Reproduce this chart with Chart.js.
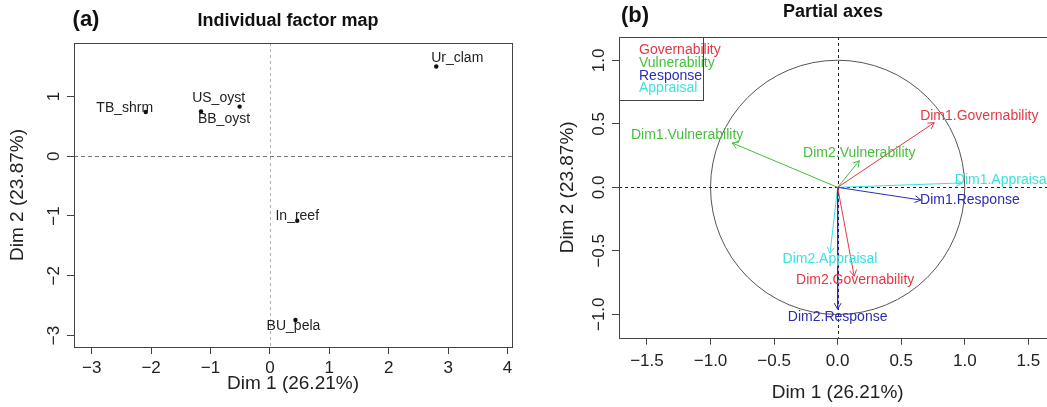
<!DOCTYPE html>
<html>
<head>
<meta charset="utf-8">
<script src="https://cdn.jsdelivr.net/npm/chart.js@4/dist/chart.umd.min.js"></script>
<style>
  html, body { margin: 0; padding: 0; background: #fff; overflow: hidden; }
  #wrap { position: relative; width: 1047px; height: 407px; overflow: hidden; }
  canvas { position: absolute; top: 0; }
  #mapA { left: 0; }
  #mapB { left: 530px; }
</style>
</head>
<body>
<div id="wrap">
  <canvas id="mapA" width="530" height="407"></canvas>
  <canvas id="mapB" width="530" height="407"></canvas>
</div>
<script>
// ---- Individual factor map: scores of each fishery on the first two dimensions
const individuals = ['Ur_clam', 'TB_shrm', 'US_oyst', 'BB_oyst', 'In_reef', 'BU_pela'];
const indDim1 = [2.80, -2.09, -0.51, -1.16, 0.46, 0.43];
const indDim2 = [1.50, 0.74, 0.83, 0.75, -1.08, -2.74];

// ---- Partial axes: coordinates of each group's own axes on the MFA dimensions
const partialNames = ['Dim1.Governability', 'Dim2.Governability',
                      'Dim1.Vulnerability', 'Dim2.Vulnerability',
                      'Dim1.Response', 'Dim2.Response',
                      'Dim1.Appraisal', 'Dim2.Appraisal'];
const partialGroup = ['Governability', 'Governability', 'Vulnerability', 'Vulnerability',
                      'Response', 'Response', 'Appraisal', 'Appraisal'];
const partialDim1 = [0.76, 0.13, -0.83, 0.17, 0.655, 0.00, 0.98, -0.06];
const partialDim2 = [0.51, -0.70, 0.35, 0.21, -0.10, -0.96, 0.035, -0.52];
const groups = ['Governability', 'Vulnerability', 'Response', 'Appraisal'];

// ---- tick values
const xTicksA = [-3, -2, -1, 0, 1, 2, 3, 4];
const yTicksA = [-3, -2, -1, 0, 1];
const xTicksB = [-1.5, -1, -0.5, 0, 0.5, 1, 1.5];
const yTicksB = [-1, -0.5, 0, 0.5, 1];

const axisTitleX = 'Dim 1 (26.21%)';
const axisTitleY = 'Dim 2 (23.87%)';

// ---- styling
const FONT = "'Liberation Sans', Arial, Helvetica, sans-serif";
const INK = '#222';
const FRAME = '#444';
const groupColors = {
  Governability: '#e23a45',
  Vulnerability: '#46be3c',
  Response: '#2d2db4',
  Appraisal: '#3ce1e1'
};
// text placement of each label relative to its mark, in pixels
const indLabelShift = {
  Ur_clam: [21, -8], TB_shrm: [-21, -4], US_oyst: [-21, -8],
  BB_oyst: [23, 8], In_reef: [0, -5], BU_pela: [-2, 6]
};
const partialLabelShift = {
  'Dim1.Governability': [45, -7], 'Dim2.Governability': [1, 4],
  'Dim1.Vulnerability': [-45, -8], 'Dim2.Vulnerability': [0, -8],
  'Dim1.Response': [49, 0], 'Dim2.Response': [0, 8],
  'Dim1.Appraisal': [40, -3], 'Dim2.Appraisal': [0, 6]
};

const withMinus = s => s.replace('-', '\u2212');
const fmtInt = v => withMinus(String(Math.round(v)));
const fmtOne = v => withMinus((Math.round(v * 10) / 10).toFixed(1));

function makeScales(o) {
  return {
    x: {
      type: 'linear', min: o.xMin, max: o.xMax,
      afterBuildTicks: s => { s.ticks = o.xTicks.map(v => ({ value: v })); },
      afterFit: s => { s.height = o.xAxisHeight; },
      grid: { drawOnChartArea: false, drawTicks: true, tickLength: 7, color: FRAME, lineWidth: 1 },
      border: { display: false },
      ticks: { font: { family: FONT, size: 17 }, color: INK, padding: o.xTickPad,
               maxRotation: 0, autoSkip: false, callback: o.fmt },
      title: { display: true, text: axisTitleX, color: INK, font: { family: FONT, size: 19 },
               padding: { top: 0, bottom: o.xTitlePad } }
    },
    y: {
      type: 'linear', min: o.yMin, max: o.yMax,
      afterBuildTicks: s => { s.ticks = o.yTicks.map(v => ({ value: v })); },
      afterFit: s => { s.width = o.yAxisWidth; },
      grid: { drawOnChartArea: false, drawTicks: true, tickLength: 7, color: FRAME, lineWidth: 1 },
      border: { display: false },
      ticks: { font: { family: FONT, size: 17 }, color: INK, padding: o.yTickPad,
               minRotation: 90, maxRotation: 90, crossAlign: 'center', autoSkip: false, callback: o.fmt },
      title: { display: true, text: axisTitleY, color: INK, font: { family: FONT, size: 19 },
               padding: { top: o.yTitlePad, bottom: 0 } }
    }
  };
}

// frame, zero lines, headings
const decor = {
  id: 'decor',
  beforeDatasetsDraw(chart, args, opts) {
    const { ctx, chartArea: a, scales: { x, y } } = chart;
    ctx.save();
    if (opts.circle) {
      const cx = x.getPixelForValue(0), cy = y.getPixelForValue(0);
      const r = x.getPixelForValue(1) - cx;
      ctx.beginPath();
      ctx.arc(cx, cy, r, 0, Math.PI * 2);
      ctx.strokeStyle = '#555';
      ctx.lineWidth = 1;
      ctx.stroke();
    }
    const x0 = Math.round(x.getPixelForValue(0)) + 0.5;
    const y0 = Math.round(y.getPixelForValue(0)) + 0.5;
    ctx.lineWidth = 1;
    ctx.setLineDash(opts.vDash);
    ctx.strokeStyle = opts.vColor;
    ctx.beginPath(); ctx.moveTo(x0, a.top); ctx.lineTo(x0, a.bottom); ctx.stroke();
    ctx.setLineDash(opts.hDash);
    ctx.strokeStyle = opts.hColor;
    ctx.beginPath(); ctx.moveTo(a.left, y0); ctx.lineTo(a.right, y0); ctx.stroke();
    ctx.restore();
  },
  afterDraw(chart, args, opts) {
    const { ctx, chartArea: a } = chart;
    ctx.save();
    ctx.strokeStyle = FRAME;
    ctx.lineWidth = 1;
    ctx.strokeRect(Math.round(a.left) + 0.5, Math.round(a.top) + 0.5,
                   Math.round(a.right - a.left), Math.round(a.bottom - a.top));
    ctx.fillStyle = '#111';
    ctx.textBaseline = 'alphabetic';
    ctx.textAlign = 'center';
    ctx.font = `bold 22px ${FONT}`;
    ctx.fillText(opts.tag, opts.tagX, opts.tagY);
    ctx.font = `bold 18px ${FONT}`;
    ctx.fillText(opts.heading, opts.headingX, opts.headingY);
    ctx.restore();
  }
};

// names next to the individuals
const individualNames = {
  id: 'individualNames',
  afterDatasetsDraw(chart) {
    const { ctx } = chart;
    const meta = chart.getDatasetMeta(0);
    ctx.save();
    ctx.font = `14px ${FONT}`;
    ctx.fillStyle = INK;
    ctx.textAlign = 'center';
    ctx.textBaseline = 'middle';
    meta.data.forEach((el, i) => {
      const name = individuals[i];
      const [dx, dy] = indLabelShift[name];
      ctx.fillText(name, el.x + dx, el.y + dy);
    });
    ctx.restore();
  }
};

// arrow heads, arrow names and the group key
const arrowsAndKey = {
  id: 'arrowsAndKey',
  afterDatasetsDraw(chart) {
    const { ctx, chartArea: a } = chart;
    ctx.save();
    chart.data.datasets.forEach((ds, i) => {
      const meta = chart.getDatasetMeta(i);
      const p0 = meta.data[0], p1 = meta.data[1];
      const ang = Math.atan2(p1.y - p0.y, p1.x - p0.x);
      const len = 7, spread = Math.PI / 6;
      ctx.strokeStyle = ds.borderColor;
      ctx.lineWidth = 1;
      ctx.beginPath();
      ctx.moveTo(p1.x - len * Math.cos(ang - spread), p1.y - len * Math.sin(ang - spread));
      ctx.lineTo(p1.x, p1.y);
      ctx.lineTo(p1.x - len * Math.cos(ang + spread), p1.y - len * Math.sin(ang + spread));
      ctx.stroke();
      const [dx, dy] = partialLabelShift[ds.label];
      ctx.font = `14px ${FONT}`;
      ctx.fillStyle = ds.borderColor;
      ctx.textAlign = 'center';
      ctx.textBaseline = 'middle';
      ctx.fillText(ds.label, p1.x + dx, p1.y + dy);
    });
    // group key in the top-left corner
    ctx.strokeStyle = FRAME;
    ctx.setLineDash([]);
    ctx.strokeRect(Math.round(a.left) + 0.5, Math.round(a.top) + 0.5, 84, 63);
    ctx.font = `14px ${FONT}`;
    ctx.textAlign = 'left';
    ctx.textBaseline = 'middle';
    groups.forEach((g, i) => {
      ctx.fillStyle = groupColors[g];
      ctx.fillText(g, a.left + 20, a.top + 13.5 + i * 12.6);
    });
    ctx.restore();
  }
};

const common = {
  responsive: false,
  animation: false,
  devicePixelRatio: 1,
  events: []
};

// ---- (a) Individual factor map
new Chart(document.getElementById('mapA'), {
  type: 'scatter',
  data: {
    datasets: [{
      label: 'individuals',
      data: individuals.map((n, i) => ({ x: indDim1[i], y: indDim2[i] })),
      pointRadius: 2.2,
      pointBackgroundColor: '#111',
      pointBorderWidth: 0
    }]
  },
  options: Object.assign({}, common, {
    layout: { padding: { left: 0, top: 43, right: 18, bottom: 0 } },
    scales: makeScales({
      xMin: -3.298, xMax: 4.075, yMin: -3.192, yMax: 1.894,
      xTicks: xTicksA, yTicks: yTicksA, fmt: fmtInt,
      xAxisHeight: 60, yAxisWidth: 74,
      xTickPad: 4, yTickPad: 3, xTitlePad: 12, yTitlePad: 6
    }),
    plugins: {
      legend: { display: false },
      tooltip: { enabled: false },
      decor: {
        vDash: [3, 3], vColor: '#b0b0b0', hDash: [4, 3], hColor: '#777',
        tag: '(a)', tagX: 86, tagY: 26,
        heading: 'Individual factor map', headingX: 288, headingY: 25.5
      }
    }
  }),
  plugins: [decor, individualNames]
});

// ---- (b) Partial axes
new Chart(document.getElementById('mapB'), {
  type: 'scatter',
  data: {
    datasets: partialNames.map((name, i) => ({
      label: name,
      data: [{ x: 0, y: 0 }, { x: partialDim1[i], y: partialDim2[i] }],
      showLine: true,
      borderColor: groupColors[partialGroup[i]],
      borderWidth: 1,
      pointRadius: 0
    }))
  },
  options: Object.assign({}, common, {
    layout: { padding: { left: 0, top: 37, right: 3.7, bottom: 0 } },
    scales: makeScales({
      xMin: -1.72, xMax: 1.72, yMin: -1.185, yMax: 1.185,
      xTicks: xTicksB, yTicks: yTicksB, fmt: fmtOne,
      xAxisHeight: 69.3, yAxisWidth: 89,
      xTickPad: 6, yTickPad: -4, xTitlePad: 3, yTitlePad: 26
    }),
    plugins: {
      legend: { display: false },
      tooltip: { enabled: false },
      decor: {
        circle: true,
        vDash: [3, 3], vColor: '#222', hDash: [3, 3], hColor: '#222',
        tag: '(b)', tagX: 105, tagY: 21.5,
        heading: 'Partial axes', headingX: 303, headingY: 16.7
      }
    }
  }),
  plugins: [decor, arrowsAndKey]
});
</script>
</body>
</html>
